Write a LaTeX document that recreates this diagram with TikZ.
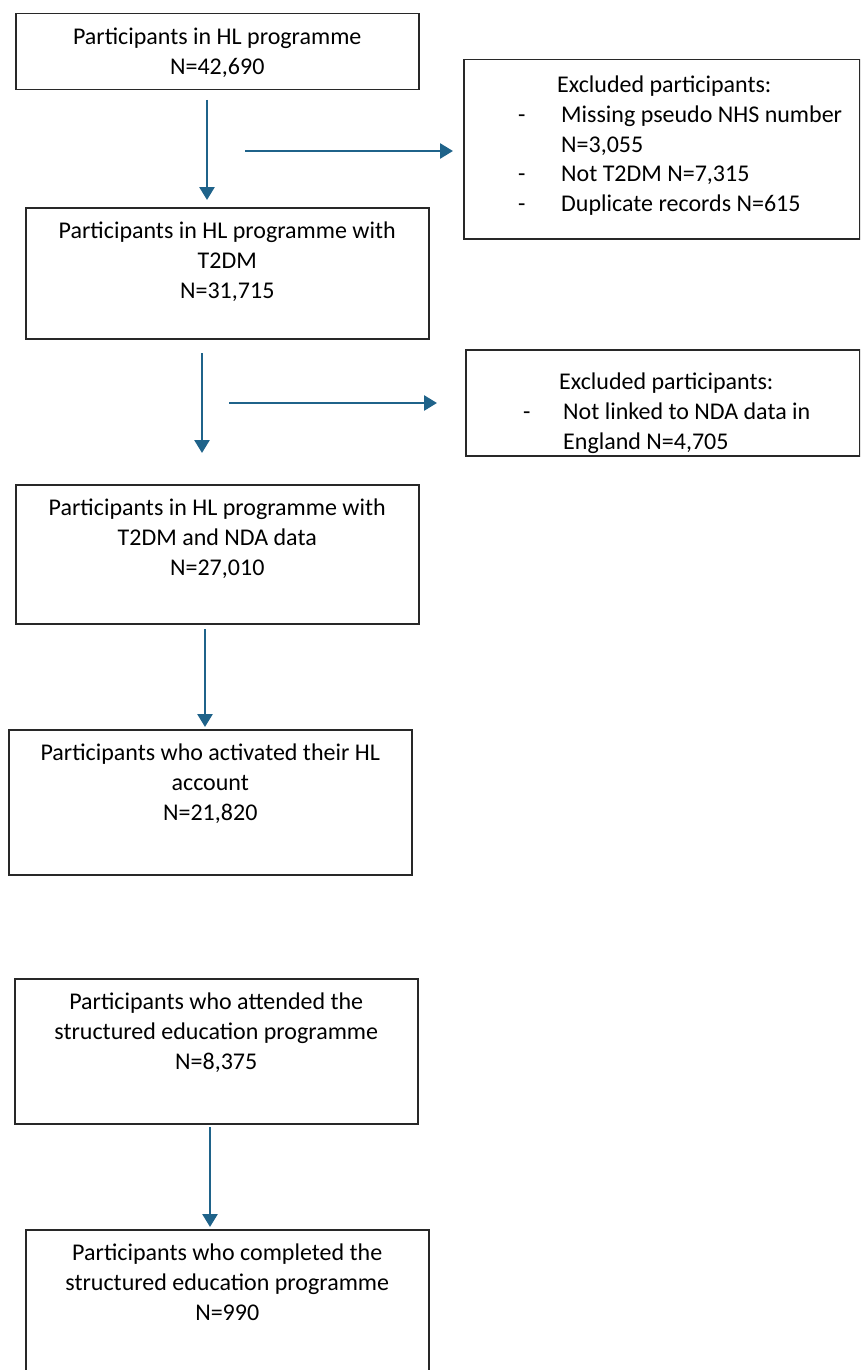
\documentclass[tikz,border=0pt]{standalone}
\usepackage{fontspec}
\setmainfont{Carlito}
\usetikzlibrary{calc,arrows.meta}
\definecolor{flowblue}{RGB}{31,99,138}
\definecolor{boxline}{RGB}{40,40,40}
\newcommand{\itm}{\makebox[43pt][l]{-}}
\newcommand{\itmb}{\makebox[40pt][l]{-}}

\begin{document}
\begin{tikzpicture}[x=1pt,y=-1pt,
    box/.style={draw=boxline,line width=1.5pt,inner sep=0pt,anchor=north west,minimum width=403pt},
    txt/.style={inner sep=0pt,anchor=north,align=center,text=black,font=\fontsize{24}{29.6}\selectfont},
    extxt/.style={inner sep=0pt,anchor=north west,align=left,text=black,font=\fontsize{24}{29.6}\selectfont},
    flow/.style={draw=flowblue,line width=2.7pt,-{Triangle[width=15pt,length=13pt]}}]
  \clip (0,0) rectangle (860,1370);
  \fill[white] (0,0) rectangle (860,1370);
  % main boxes
  \node[box,minimum height=76pt]  (HLs)   at (15,13)   {};
  \node[box,minimum height=131pt] (T2DMs) at (25,207)  {};
  \node[box,minimum height=139pt] (NDAs)  at (15,484)  {};
  \node[box,minimum height=145pt] (ACTs)  at (8,729)   {};
  \node[box,minimum height=145pt] (ATTs)  at (14,978)  {};
  \node[box,minimum height=160pt] (COMPs) at (25,1229) {};
  \node[txt] (HLt)   at ($(HLs.north)+(0,11)$)   {\strut Participants in HL programme\\N=42,690};
  \node[txt] (T2DMt) at ($(T2DMs.north)+(0,11)$) {\strut Participants in HL programme with\\T2DM\\N=31,715};
  \node[txt] (NDAt)  at ($(NDAs.north)+(0,11)$)  {\strut Participants in HL programme with\\T2DM and NDA data\\N=27,010};
  \node[txt] (ACTt)  at ($(ACTs.north)+(0,11)$)  {\strut Participants who activated their HL\\account\\N=21,820};
  \node[txt] (ATTt)  at ($(ATTs.north)+(0,11)$)  {\strut Participants who attended the\\structured education programme\\N=8,375};
  \node[txt] (COMPt) at ($(COMPs.north)+(0,11)$) {\strut Participants who completed the\\structured education programme\\N=990};
  % exclusion boxes
  \node[box,minimum width=396pt,minimum height=179pt] (EXa) at (463,59)  {};
  \node[box,minimum width=394pt,minimum height=106pt] (EXb) at (465,349) {};
  \node[extxt] (EXat) at ($(EXa.north west)+(55,13)$)
    {\strut\hspace*{39pt}Excluded participants:\\
     \itm Missing pseudo NHS number\\
     \hspace*{43pt}N=3,055\\
     \itm Not T2DM N=7,315\\
     \itm Duplicate records N=615};
  \node[extxt] (EXbt) at ($(EXb.north west)+(58,20)$)
    {\strut\hspace*{36pt}Excluded participants:\\
     \itmb Not linked to NDA data in\\
     \hspace*{40pt}England N=4,705};
  % arrows
  \coordinate (v1) at (207,100);
  \coordinate (v2) at (202,353);
  \coordinate (v3) at (205,629);
  \coordinate (v4) at (210,1127);
  \coordinate (h1) at (245,151);
  \coordinate (h2) at (229,403);
  \draw[flow,shorten >=7pt]  (v1) -- (v1 |- T2DMs.north);
  \draw[flow,shorten >=31pt] (v2) -- (v2 |- NDAs.north);
  \draw[flow,shorten >=2pt]  (v3) -- (v3 |- ACTs.north);
  \draw[flow,shorten >=2pt]  (v4) -- (v4 |- COMPs.north);
  \draw[flow,shorten >=10pt] (h1) -- (h1 -| EXa.west);
  \draw[flow,shorten >=28pt] (h2) -- (h2 -| EXb.west);
\end{tikzpicture}
\end{document}
